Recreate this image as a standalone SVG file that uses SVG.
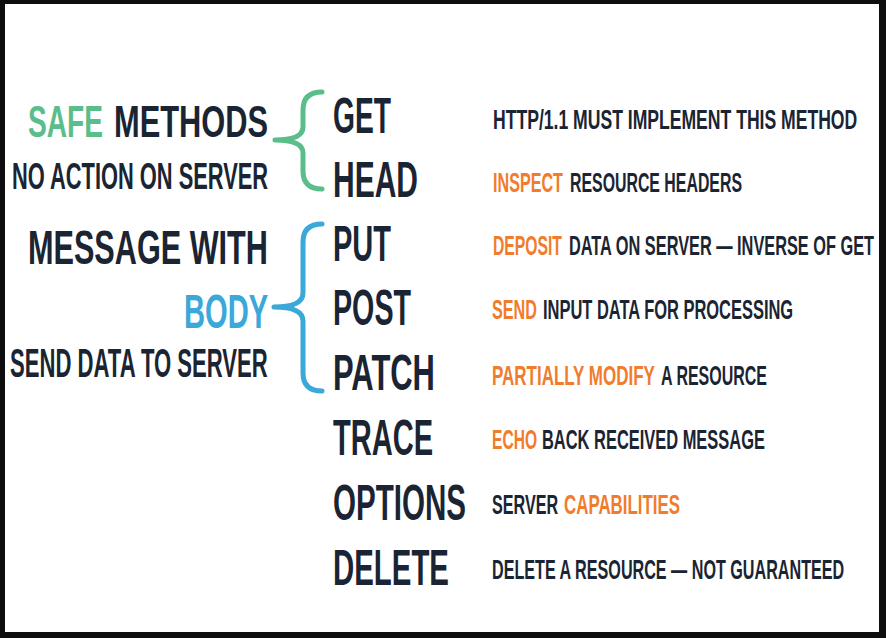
<svg xmlns="http://www.w3.org/2000/svg" width="886" height="638" viewBox="0 0 886 638">
<style>
text{font-family:"Liberation Sans",Arial,sans-serif;font-weight:bold;}
.d{fill:#1b2432;}
.g{fill:#5bbd89;}
.b{fill:#3aa8d8;}
.o{fill:#f07c2c;}
.m{font-size:50px;}
.s{font-size:27px;}
.brace{fill:none;stroke-width:5;stroke-linecap:round;stroke-linejoin:round;}
</style>
<rect x="0" y="0" width="886" height="638" fill="#0e0e0e"/>
<rect x="5" y="4" width="874" height="628" fill="#ffffff"/>

<g id="left-labels">
  <g id="safe-methods">
    <text class="g" font-size="44" transform="translate(28,137) scale(0.639,1)" textLength="117.3" lengthAdjust="spacingAndGlyphs">SAFE</text>
    <text class="d" font-size="44" transform="translate(114,137) scale(0.7,1)" textLength="220" lengthAdjust="spacingAndGlyphs">METHODS</text>
    <text class="d" font-size="36" transform="translate(12,189) scale(0.604,1)" textLength="424" lengthAdjust="spacingAndGlyphs">NO ACTION ON SERVER</text>
  </g>
  <g id="message-body">
    <text class="d" font-size="49" transform="translate(28,264) scale(0.625,1)" textLength="383.9" lengthAdjust="spacingAndGlyphs">MESSAGE WITH</text>
    <text class="b" font-size="48" transform="translate(184,328) scale(0.606,1)" textLength="138.7" lengthAdjust="spacingAndGlyphs">BODY</text>
    <text class="d" font-size="40" transform="translate(10,377) scale(0.542,1)" textLength="475.6" lengthAdjust="spacingAndGlyphs">SEND DATA TO SERVER</text>
  </g>
</g>

<g id="connectors">
  <path class="brace" stroke="#5bbd89" d="M322,92 Q303,92 303,110 L303,127 Q303,140 275,140 Q303,140 303,153 L303,171 Q303,189 322,189"/>
  <path class="brace" stroke="#3aa8d8" d="M322,224 Q303,224 303,242 L303,293 Q303,307 274,307 Q303,307 303,321 L303,373 Q303,391 322,391"/>
</g>

<g id="get">
  <text class="d m" transform="translate(333,133) scale(0.564,1)" textLength="102.8" lengthAdjust="spacingAndGlyphs">GET</text>
  <text class="d s" transform="translate(493,129) scale(0.651,1)" textLength="559.5" lengthAdjust="spacingAndGlyphs">HTTP/1.1 MUST IMPLEMENT THIS METHOD</text>
</g>
<g id="head">
  <text class="d m" transform="translate(333,197) scale(0.6,1)" textLength="141.65" lengthAdjust="spacingAndGlyphs">HEAD</text>
  <text class="o s" transform="translate(493,192) scale(0.598,1)" textLength="117" lengthAdjust="spacingAndGlyphs">INSPECT</text>
  <text class="d s" transform="translate(570,192) scale(0.588,1)" textLength="292.5" lengthAdjust="spacingAndGlyphs">RESOURCE HEADERS</text>
</g>
<g id="put">
  <text class="d m" transform="translate(333,261) scale(0.58,1)" textLength="100" lengthAdjust="spacingAndGlyphs">PUT</text>
  <text class="o s" transform="translate(493,255) scale(0.582,1)" textLength="118.5" lengthAdjust="spacingAndGlyphs">DEPOSIT</text>
  <text class="d s" transform="translate(569,255) scale(0.598,1)" textLength="510.1" lengthAdjust="spacingAndGlyphs">DATA ON SERVER — INVERSE OF GET</text>
</g>
<g id="post">
  <text class="d m" transform="translate(333,325) scale(0.573,1)" textLength="136.15" lengthAdjust="spacingAndGlyphs">POST</text>
  <text class="o s" transform="translate(492,319) scale(0.6,1)" textLength="75" lengthAdjust="spacingAndGlyphs">SEND</text>
  <text class="d s" transform="translate(543,319) scale(0.602,1)" textLength="415.5" lengthAdjust="spacingAndGlyphs">INPUT DATA FOR PROCESSING</text>
</g>
<g id="patch">
  <text class="d m" transform="translate(333,390) scale(0.592,1)" textLength="172.2" lengthAdjust="spacingAndGlyphs">PATCH</text>
  <text class="o s" transform="translate(492,385) scale(0.617,1)" textLength="264" lengthAdjust="spacingAndGlyphs">PARTIALLY MODIFY</text>
  <text class="d s" transform="translate(661,385) scale(0.589,1)" textLength="180" lengthAdjust="spacingAndGlyphs">A RESOURCE</text>
</g>
<g id="trace">
  <text class="d m" transform="translate(333,455) scale(0.581,1)" textLength="172.2" lengthAdjust="spacingAndGlyphs">TRACE</text>
  <text class="o s" transform="translate(492,449) scale(0.577,1)" textLength="78" lengthAdjust="spacingAndGlyphs">ECHO</text>
  <text class="d s" transform="translate(542,449) scale(0.609,1)" textLength="366" lengthAdjust="spacingAndGlyphs">BACK RECEIVED MESSAGE</text>
</g>
<g id="options">
  <text class="d m" transform="translate(333,520) scale(0.591,1)" textLength="225.05" lengthAdjust="spacingAndGlyphs">OPTIONS</text>
  <text class="d s" transform="translate(492,514) scale(0.595,1)" textLength="111" lengthAdjust="spacingAndGlyphs">SERVER</text>
  <text class="o s" transform="translate(564,514) scale(0.619,1)" textLength="187.5" lengthAdjust="spacingAndGlyphs">CAPABILITIES</text>
</g>
<g id="delete">
  <text class="d m" transform="translate(333,585) scale(0.588,1)" textLength="197.25" lengthAdjust="spacingAndGlyphs">DELETE</text>
  <text class="d s" transform="translate(492,579) scale(0.596,1)" textLength="591" lengthAdjust="spacingAndGlyphs">DELETE A RESOURCE — NOT GUARANTEED</text>
</g>
</svg>
